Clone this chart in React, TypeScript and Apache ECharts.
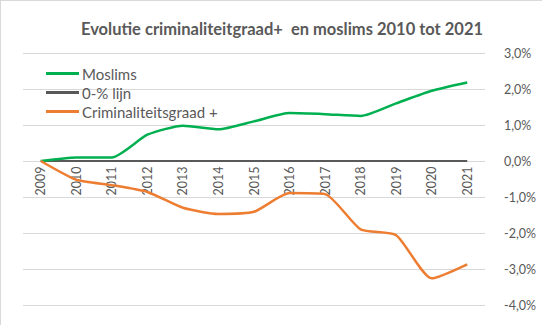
import React, { useEffect, useRef } from "react";
import * as echarts from "echarts";

const years = ["2009", "2010", "2011", "2012", "2013", "2014", "2015", "2016", "2017", "2018", "2019", "2020", "2021"];
const moslims = [0, 0.1, 0.1, 0.73, 0.98, 0.88, 1.1, 1.33, 1.3, 1.25, 1.6, 1.95, 2.18];
const zeroLine = [0, 0, 0, 0, 0, 0, 0, 0, 0, 0, 0, 0, 0];
const crim = [0, -0.52, -0.67, -0.86, -1.3, -1.47, -1.41, -0.89, -0.92, -1.9, -2.06, -3.26, -2.87];

const Y_MIN = -4;
const Y_MAX = 3;
const GRID_TOP = 52;
const GRID_BOTTOM = 20;
const H = 325;

export default function App() {
  const ref = useRef<HTMLDivElement>(null);
  useEffect(() => {
    document.body.style.margin = "0";
    const chart = echarts.init(ref.current!, null, { renderer: "svg" });
    const font = "Lato, 'Open Sans', sans-serif";
    const plotH = H - GRID_TOP - GRID_BOTTOM;
    const zeroOffset = -plotH * (0 - Y_MIN) / (Y_MAX - Y_MIN);
    chart.setOption({
      animation: false,
      backgroundColor: "#ffffff",
      title: {
        text: "Evolutie criminaliteitgraad+  en moslims 2010 tot 2021",
        left: 276,
        textAlign: "center",
        top: 14,
        textStyle: { fontFamily: font, fontSize: 16.5, fontWeight: "bold", color: "#595959" },
      },
      legend: {
        orient: "vertical",
        left: 40,
        top: 60,
        itemWidth: 33,
        itemHeight: 3,
        itemGap: 4,
        icon: "rect",
        textStyle: { fontFamily: font, fontSize: 15, color: "#595959", padding: [0, 0, 0, -2] },
        data: ["Moslims", "0-% lijn", "Criminaliteitsgraad +"],
      },
      grid: { left: 22, right: 57, top: GRID_TOP, bottom: GRID_BOTTOM, outerBoundsMode: "none", containLabel: false },
      xAxis: {
        type: "category",
        data: years,
        boundaryGap: true,
        position: "bottom",
        offset: zeroOffset,
        axisLine: { onZero: false, show: false },
        axisTick: { show: false },
        axisLabel: { rotate: 90, color: "#595959", fontFamily: font, fontSize: 12.5, margin: 6, interval: 0 },
      },
      yAxis: {
        type: "value",
        position: "right",
        min: Y_MIN,
        max: Y_MAX,
        interval: 1,
        axisLine: { show: false },
        axisTick: { show: false },
        splitLine: { lineStyle: { color: "#d9d9d9", width: 1 } },
        axisLabel: {
          color: "#595959",
          fontFamily: font,
          fontSize: 12.5,
          margin: 19,
          formatter: (v: number) => v.toFixed(1).replace(".", ",") + "%",
        },
      },
      series: [
        {
          name: "Moslims",
          type: "line",
          data: moslims,
          symbol: "none",
          smooth: 0.2,
          z: 3,
          itemStyle: { color: "#00b050" },
          lineStyle: { color: "#00b050", width: 2.5 },
        },
        {
          name: "0-% lijn",
          type: "line",
          data: zeroLine,
          symbol: "none",
          z: 2,
          itemStyle: { color: "#595959" },
          lineStyle: { color: "#595959", width: 2 },
        },
        {
          name: "Criminaliteitsgraad +",
          type: "line",
          data: crim,
          symbol: "none",
          smooth: 0.2,
          z: 4,
          itemStyle: { color: "#ed7d31" },
          lineStyle: { color: "#ed7d31", width: 2.5 },
        },
      ],
    });
    return () => chart.dispose();
  }, []);
  return (
    <div
      ref={ref}
      style={{ width: 542, height: 325, boxSizing: "border-box", borderLeft: "1px solid #d9d9d9", borderTop: "1px solid #d9d9d9" }}
    />
  );
}
